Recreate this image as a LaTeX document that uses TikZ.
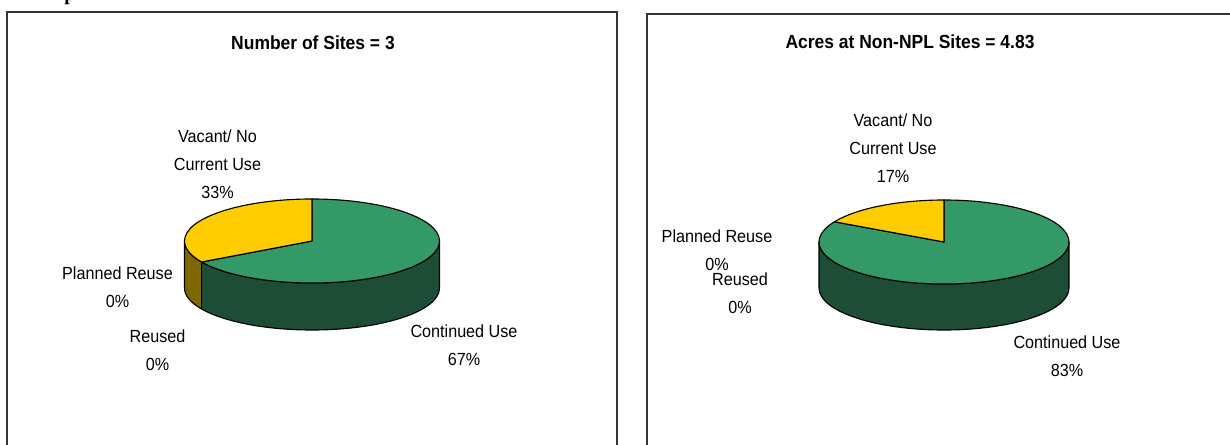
\documentclass[tikz,border=0pt]{standalone}
\usepackage{fontspec}
\newfontfamily\chartfont[FakeStretch=0.92]{Liberation Sans}
\newfontfamily\headfont{Liberation Serif}
\usepackage{tikz}
\usetikzlibrary{positioning}
\definecolor{topgreen}{HTML}{339966}
\definecolor{sidegreen}{HTML}{1E4D37}
\definecolor{topyellow}{HTML}{FFCC00}
\definecolor{sideyellow}{HTML}{806600}
\pgfdeclarelayer{nodelayer}
\pgfdeclarelayer{edgelayer}
\pgfsetlayers{edgelayer,nodelayer,main}
\tikzset{frame/.style={draw=black!80, line width=0.8pt}}
\tikzset{wedge/.style={draw=black, line width=0.8pt, line join=round}}
\tikzset{lbl/.style={align=center, inner sep=0pt, font=\chartfont\fontsize{12.5}{20}\selectfont}}
\tikzset{ttl/.style={inner sep=0pt, font=\chartfont\bfseries\fontsize{13.5}{16}\selectfont}}
\tikzset{cut/.style={inner sep=0pt, anchor=base west, font=\headfont\bfseries\fontsize{14}{16}\selectfont}}

\begin{document}
\begin{tikzpicture}[x=0.025cm, y=-0.025cm]
	\useasboundingbox (0,0) rectangle (1230,445);
	\begin{pgfonlayer}{edgelayer}
		\draw [style=frame] (7,12) rectangle (617,470);
		\draw [style=frame] (647,14) rectangle (1250,470);
		% left pie: 67 / 33
		\begin{scope}[shift={(312,241)}, yscale=-1]
			\draw [style=wedge, fill=sideyellow] (180:127.5 and 42) arc (180:210:127.5 and 42) -- ++(0,-47) arc (210:180:127.5 and 42) -- cycle;
			\draw [style=wedge, fill=sidegreen] (210:127.5 and 42) arc (210:360:127.5 and 42) -- ++(0,-47) arc (360:210:127.5 and 42) -- cycle;
			\draw [style=wedge, fill=topgreen] (0,0) -- (210:127.5 and 42) arc (210:450:127.5 and 42) -- cycle;
			\draw [style=wedge, fill=topyellow] (0,0) -- (90:127.5 and 42) arc (90:210:127.5 and 42) -- cycle;
		\end{scope}
		% right pie: 83 / 17
		\begin{scope}[shift={(944,242)}, yscale=-1]
			\draw [style=wedge, fill=sidegreen] (180:125 and 42) arc (180:360:125 and 42) -- ++(0,-46) arc (360:180:125 and 42) -- cycle;
			\draw [style=wedge, fill=topgreen] (0,0) -- (151.2:125 and 42) arc (151.2:450:125 and 42) -- cycle;
			\draw [style=wedge, fill=topyellow] (0,0) -- (90:125 and 42) arc (90:151.2:125 and 42) -- cycle;
		\end{scope}
	\end{pgfonlayer}
	\begin{pgfonlayer}{nodelayer}
		\node [style=cut] (0) at (64,1) {p};
		\node [style=ttl] (1) at (313,43) {Number of Sites = 3};
		\node [style=lbl] (2) at (217.5,164) {Vacant/ No\\Current Use\\33\%};
		\node [style=lbl] (3) at (117.5,287) {Planned Reuse\\0\%};
		\node [style=lbl] (4) at (157.5,350.5) {Reused\\0\%};
		\node [style=lbl] (5) at (464,345) {Continued Use\\67\%};
		\node [style=ttl] (6) at (910,42) {Acres at Non-NPL Sites = 4.83};
		\node [style=lbl] (7) at (893,148) {Vacant/ No\\Current Use\\17\%};
		\node [style=lbl] (8) at (717,250) {Planned Reuse\\0\%};
		\node [style=lbl] (9) at (740,293) {Reused\\0\%};
		\node [style=lbl] (10) at (1067,356) {Continued Use\\83\%};
	\end{pgfonlayer}
\end{tikzpicture}
\end{document}
